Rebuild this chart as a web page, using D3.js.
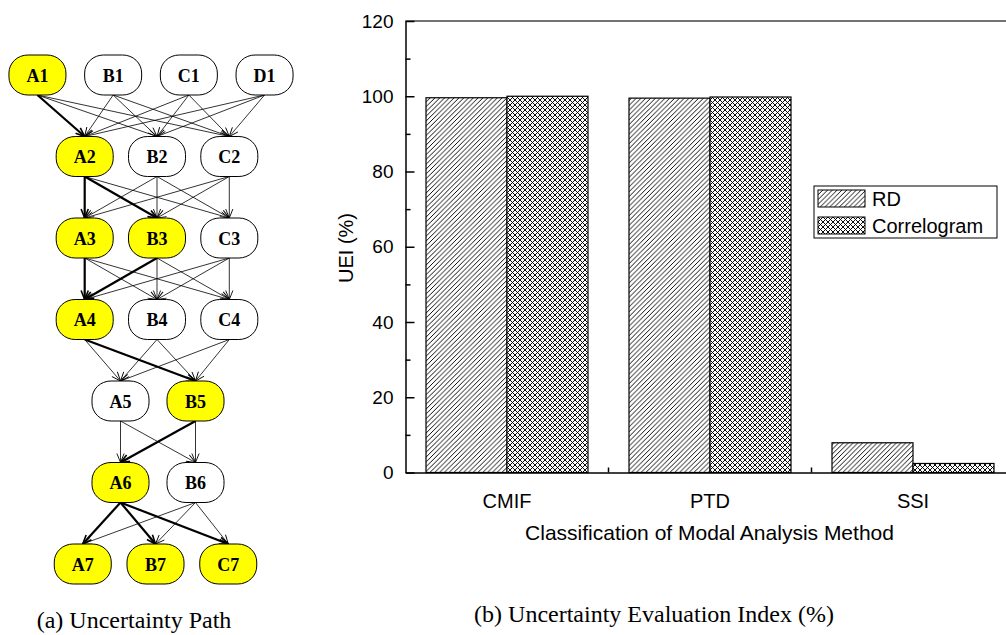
<!DOCTYPE html>
<html>
<head>
<meta charset="utf-8">
<script src="https://cdn.jsdelivr.net/npm/d3@7"></script>
<style>
  html, body { margin: 0; padding: 0; background: #fff; }
  svg { display: block; }
</style>
</head>
<body>
<svg id="chart" width="1006" height="635"></svg>
<script>
// ---------- data: (a) uncertainty path ----------
const layers = [
  ["A1", "B1", "C1", "D1"],
  ["A2", "B2", "C2"],
  ["A3", "B3", "C3"],
  ["A4", "B4", "C4"],
  ["A5", "B5"],
  ["A6", "B6"],
  ["A7", "B7", "C7"]
];
const pathNodes = ["A1", "A2", "A3", "B3", "A4", "B5", "A6", "A7", "B7", "C7"];
const pathEdges = [
  ["A1", "A2"], ["A2", "A3"], ["A2", "B3"], ["A3", "A4"], ["B3", "A4"],
  ["A4", "B5"], ["B5", "A6"], ["A6", "A7"], ["A6", "B7"], ["A6", "C7"]
];

// ---------- data: (b) uncertainty evaluation index ----------
const categories = ["CMIF", "PTD", "SSI"];
const seriesNames = ["RD", "Correlogram"];
const rdValues = [99.6, 99.5, 7.9];
const correlogramValues = [100.0, 99.8, 2.4];
const yTicks = [0, 20, 40, 60, 80, 100, 120];
const yMinorTicks = [10, 30, 50, 70, 90, 110];

(function () {
const svg = d3.select("#chart");

// ---------- patterns ----------
const defs = svg.append("defs");
const wR = 4.8;
const pRD = defs.append("pattern").attr("id", "hatchRD")
  .attr("patternUnits", "userSpaceOnUse").attr("width", wR).attr("height", wR);
pRD.append("rect").attr("width", wR).attr("height", wR).attr("fill", "#fff");
pRD.append("path").attr("d", `M-1,1 L1,-1 M0,${wR} L${wR},0 M${wR - 1},${wR + 1} L${wR + 1},${wR - 1}`)
  .attr("stroke", "#000").attr("stroke-width", 0.95);

const wC = 5;
const pCO = defs.append("pattern").attr("id", "hatchCO")
  .attr("patternUnits", "userSpaceOnUse").attr("width", wC).attr("height", wC);
pCO.append("rect").attr("width", wC).attr("height", wC).attr("fill", "#fff");
pCO.append("path").attr("d",
  `M-1,1 L1,-1 M0,${wC} L${wC},0 M${wC - 1},${wC + 1} L${wC + 1},${wC - 1} ` +
  `M-1,${wC - 1} L1,${wC + 1} M0,0 L${wC},${wC} M${wC - 1},-1 L${wC + 1},1`)
  .attr("stroke", "#000").attr("stroke-width", 0.95);

const patternFor = { "RD": "url(#hatchRD)", "Correlogram": "url(#hatchCO)" };

// ---------- (a) graph ----------
const layerLayout = [[151, 75.7], [157, 72.3], [157, 72.3], [157, 72.3], [158, 75], [158, 75], [155.5, 72.75]];
const rowY = d3.scaleLinear().domain([0, layers.length - 1]).range([75, 564]);
const nodeW = 57, nodeH = 40;
const pos = {};
layers.forEach((layer, k) => {
  const [cx, sp] = layerLayout[k];
  const half = (layer.length - 1) / 2 * sp;
  const xs = d3.scalePoint().domain(layer).range([cx - half, cx + half]);
  layer.forEach(n => { pos[n] = { x: xs(n), y: rowY(k) }; });
});

const edges = [];
for (let k = 0; k < layers.length - 1; k++) {
  layers[k].forEach(s => layers[k + 1].forEach(t => {
    const bold = pathEdges.some(e => e[0] === s && e[1] === t);
    edges.push({ s, t, bold });
  }));
}

["thin", "bold"].forEach(k => {
  defs.append("marker").attr("id", "arr-" + k)
    .attr("viewBox", "-1 -5 11 10").attr("refX", 9).attr("refY", 0)
    .attr("markerUnits", "userSpaceOnUse")
    .attr("markerWidth", 11).attr("markerHeight", 10).attr("orient", "auto")
    .append("path").attr("d", "M0,-3.6 L9,0 L0,3.6")
    .attr("fill", "none").attr("stroke", "#000")
    .attr("stroke-width", k === "bold" ? 1.6 : 0.9);
});

const gA = svg.append("g");
const sorted = edges.slice().sort((a, b) => a.bold - b.bold);
gA.selectAll("line.edge").data(sorted).join("line")
  .attr("class", "edge")
  .attr("x1", d => pos[d.s].x).attr("y1", d => pos[d.s].y + nodeH / 2)
  .attr("x2", d => pos[d.t].x).attr("y2", d => pos[d.t].y - nodeH / 2)
  .attr("stroke", "#000")
  .attr("stroke-width", d => d.bold ? 2.2 : 0.8)
  .attr("marker-end", d => d.bold ? "url(#arr-bold)" : "url(#arr-thin)");

const allNodes = layers.flat();
const ng = gA.selectAll("g.node").data(allNodes).join("g")
  .attr("class", "node")
  .attr("transform", d => `translate(${pos[d].x},${pos[d].y})`);
ng.append("rect")
  .attr("x", -nodeW / 2).attr("y", -nodeH / 2)
  .attr("width", nodeW).attr("height", nodeH)
  .attr("rx", 19).attr("ry", 18)
  .attr("fill", d => pathNodes.includes(d) ? "#ffff00" : "#fff")
  .attr("stroke", "#000").attr("stroke-width", 1);
ng.append("text")
  .attr("text-anchor", "middle").attr("y", 6.5)
  .attr("font-family", "'Liberation Serif', 'Times New Roman', serif")
  .attr("font-weight", "bold").attr("font-size", 18)
  .text(d => d);

svg.append("text")
  .attr("x", 134).attr("y", 628).attr("text-anchor", "middle")
  .attr("font-family", "'Liberation Serif', 'Times New Roman', serif")
  .attr("font-size", 24)
  .text("(a) Uncertainty Path");

// ---------- (b) bar chart ----------
const pLeft = 405.5, pTop = 21, pBottom = 472.5;
const x0 = d3.scaleBand().domain(categories).range([pLeft, pLeft + 609]).padding(0);
const x1 = d3.scaleBand().domain(seriesNames).range([20.5, x0.bandwidth() - 20.5]).padding(0);
const y = d3.scaleLinear().domain([0, 120]).range([pBottom, pTop]);

const gB = svg.append("g");
const barData = categories.flatMap((c, i) => [
  { c, s: "RD", v: rdValues[i] },
  { c, s: "Correlogram", v: correlogramValues[i] }
]);
gB.selectAll("rect.bar").data(barData).join("rect")
  .attr("class", "bar")
  .attr("x", d => x0(d.c) + x1(d.s))
  .attr("y", d => y(d.v))
  .attr("width", x1.bandwidth())
  .attr("height", d => y(0) - y(d.v))
  .attr("fill", d => patternFor[d.s])
  .attr("stroke", "#000").attr("stroke-width", 1.2);

// top frame
gB.append("line").attr("x1", pLeft).attr("x2", pLeft + 609)
  .attr("y1", pTop).attr("y2", pTop).attr("stroke", "#444").attr("stroke-width", 1.5);

// y axis
const yAxis = gB.append("g").attr("transform", `translate(${pLeft},0)`)
  .call(d3.axisLeft(y).tickValues(yTicks).tickSizeInner(-9).tickSizeOuter(0).tickPadding(12));
yAxis.select(".domain").attr("stroke-width", 1.5);
yAxis.selectAll(".tick line").attr("stroke-width", 1.5);
yAxis.selectAll("text").attr("font-family", "'Liberation Sans', Arial, sans-serif")
  .attr("font-size", 19).attr("fill", "#000");
const yMinor = gB.append("g").attr("transform", `translate(${pLeft},0)`)
  .call(d3.axisLeft(y).tickValues(yMinorTicks).tickSizeInner(-5).tickSizeOuter(0).tickFormat(""));
yMinor.select(".domain").remove();
yMinor.selectAll(".tick line").attr("stroke-width", 1.5);

// x axis
const xAxis = gB.append("g").attr("transform", `translate(0,${pBottom})`)
  .call(d3.axisBottom(x0).tickSize(0).tickPadding(21));
xAxis.select(".domain").attr("stroke-width", 1.5);
xAxis.selectAll("text").attr("font-family", "'Liberation Sans', Arial, sans-serif")
  .attr("font-size", 20).attr("fill", "#000");
gB.selectAll("line.bound").data(categories.slice(0, -1)).join("line")
  .attr("class", "bound")
  .attr("x1", d => x0(d) + x0.bandwidth()).attr("x2", d => x0(d) + x0.bandwidth())
  .attr("y1", pBottom).attr("y2", pBottom - 5)
  .attr("stroke", "#000").attr("stroke-width", 1.5);

// axis titles
gB.append("text")
  .attr("transform", `translate(353,248) rotate(-90)`)
  .attr("text-anchor", "middle")
  .attr("font-family", "'Liberation Sans', Arial, sans-serif").attr("font-size", 20)
  .text("UEI (%)");
gB.append("text")
  .attr("x", 709.5).attr("y", 540).attr("text-anchor", "middle")
  .attr("font-family", "'Liberation Sans', Arial, sans-serif").attr("font-size", 21)
  .text("Classification of Modal Analysis Method");

// legend
const lg = gB.append("g").attr("transform", "translate(814,186)");
lg.append("rect").attr("width", 183).attr("height", 52)
  .attr("fill", "#fff").attr("stroke", "#000").attr("stroke-width", 1);
const items = lg.selectAll("g.item").data(seriesNames).join("g")
  .attr("class", "item")
  .attr("transform", (d, i) => `translate(4,${4 + i * 27})`);
items.append("rect").attr("width", 47).attr("height", 17)
  .attr("fill", d => patternFor[d]).attr("stroke", "#000").attr("stroke-width", 1);
items.append("text").attr("x", 54).attr("y", 16)
  .attr("font-family", "'Liberation Sans', Arial, sans-serif").attr("font-size", 20)
  .text(d => d);

// caption
svg.append("text")
  .attr("x", 654).attr("y", 622).attr("text-anchor", "middle")
  .attr("font-family", "'Liberation Serif', 'Times New Roman', serif")
  .attr("font-size", 24)
  .text("(b) Uncertainty Evaluation Index (%)");
})();
</script>
</body>
</html>
